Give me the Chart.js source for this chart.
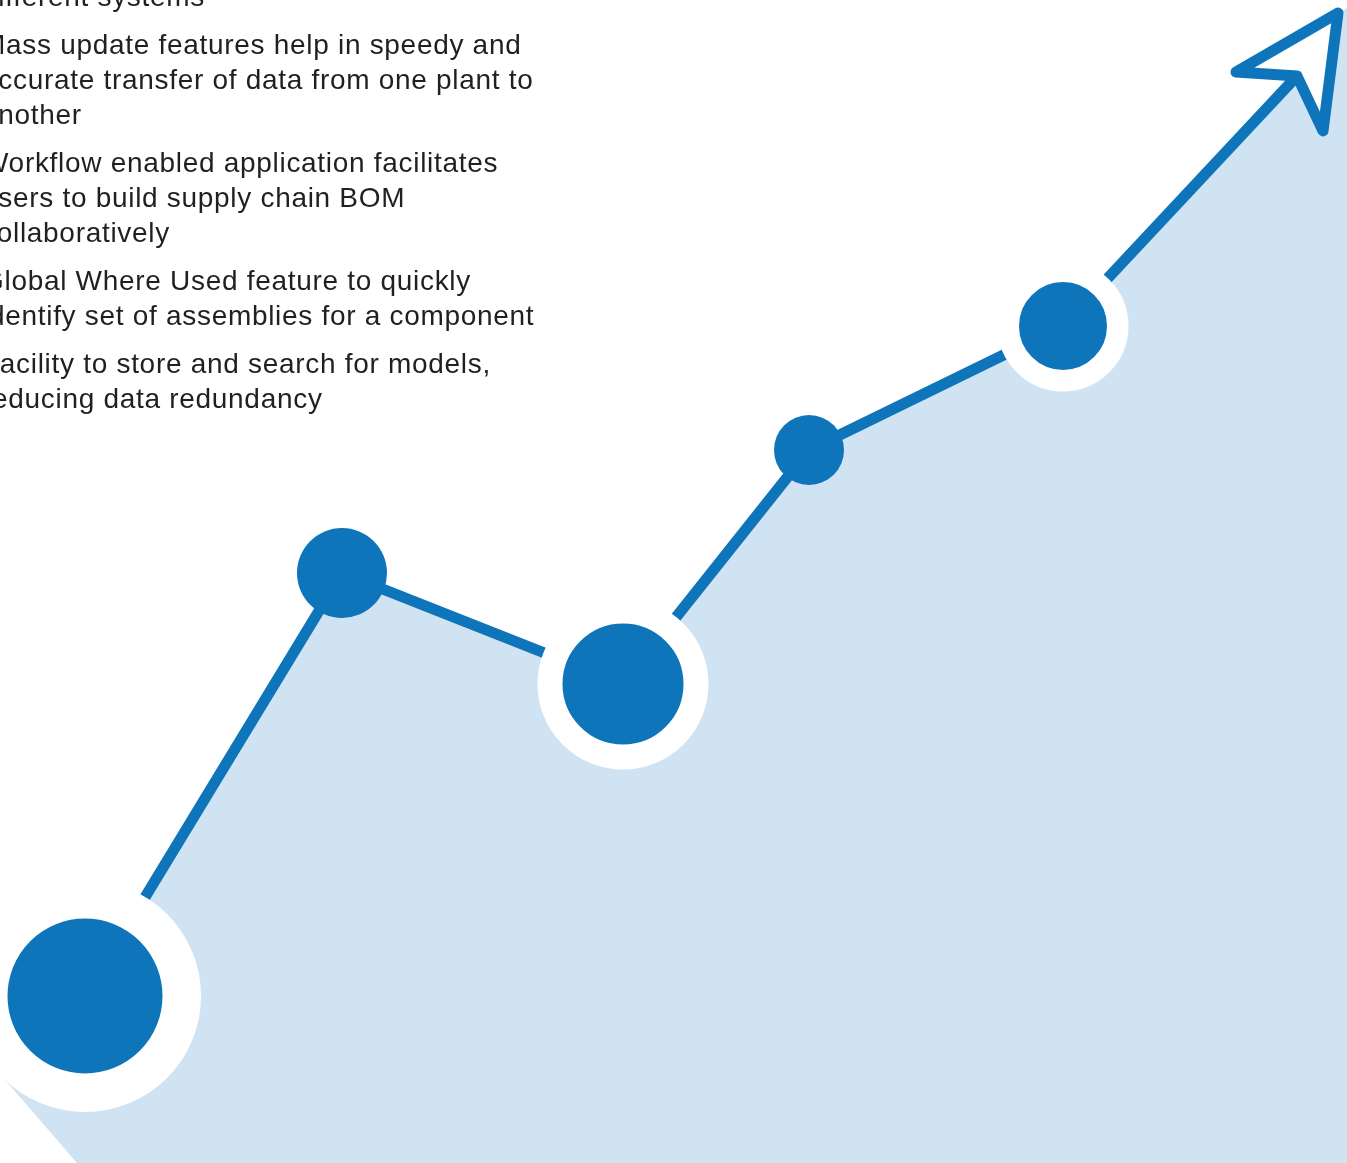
<!DOCTYPE html>
<html lang="en">
<head>
  <meta charset="UTF-8">
  <title>Supply Chain BOM growth</title>
  <style>
    body {
      margin: 0;
      padding: 0;
      background: #fff;
      overflow: hidden;
    }
    #wrap {
      position: absolute;
      left: 0;
      top: 0;
      width: 1347px;
      height: 1163px;
    }
    .notes {
      position: absolute;
      left: -18px;
      top: -21px;
      margin: 0;
      padding: 0;
      list-style: none;
      font-family: 'Liberation Sans', Arial, sans-serif;
      font-size: 28px;
      letter-spacing: 0.7px;
      line-height: 35px;
      color: #231f20;
      white-space: nowrap;
    }
    .notes li {
      margin-bottom: 13px;
    }
  </style>
</head>
<body>

  <div id="wrap">
    <canvas id="growth"></canvas>
    <ul class="notes">
      <li>different systems</li>
      <li>Mass update features help in speedy and<br>accurate transfer of data from one plant to<br>another</li>
      <li>Workflow enabled application facilitates<br>users to build supply chain BOM<br>collaboratively</li>
      <li>Global Where Used feature to quickly<br>identify set of assemblies for a component</li>
      <li>Facility to store and search for models,<br>reducing data redundancy</li>
    </ul>
  </div>

  <script src="https://cdn.jsdelivr.net/npm/chart.js"></script>
  <script>
    // milestones along the growth line (x = step position, y = level)
    const stepX  = [85, 342, 623, 809, 1063, 1297];
    const stepY  = [167, 590, 479, 713, 837, 1087];

    // arrow head outline, starting and ending at the notch
    const arrowX = [1297, 1236, 1338, 1323, 1297];
    const arrowY = [1087, 1091, 1150, 1032, 1087];

    // shaded area under the line (runs out past the arrow to the right edge)
    const areaX  = [0, 85, 342, 623, 809, 1063, 1297, 1323, 1338, 1347];
    const areaY  = [163, 167, 590, 479, 713, 837, 1087, 1032, 1150, 1155];

    // clipped bottom-left corner of the shaded area
    const cornerX = [0, 77];
    const cornerY = [89, 0];

    const BLUE  = '#0f75bb';
    const LIGHT = '#d0e3f2';

    const pts = (xs, ys) => xs.map((x, i) => ({ x, y: ys[i] }));

    new Chart(document.getElementById('growth'), {
      type: 'line',
      data: {
        datasets: [
          {
            label: 'arrow',
            data: pts(arrowX, arrowY),
            borderColor: BLUE,
            borderWidth: 11,
            borderJoinStyle: 'round',
            borderCapStyle: 'round',
            pointRadius: 0,
            fill: false,
            order: 0
          },
          {
            label: 'growth',
            data: pts(stepX, stepY),
            borderColor: BLUE,
            borderWidth: 11,
            borderCapStyle: 'butt',
            pointBackgroundColor: BLUE,
            pointBorderColor: '#fff',
            pointRadius: [96.75, 45, 73, 35, 54.75, 0],
            pointBorderWidth: [38.5, 0, 25, 0, 21.5, 0],
            fill: false,
            order: 1
          },
          {
            label: 'corner',
            data: pts(cornerX, cornerY),
            borderColor: 'transparent',
            borderWidth: 0,
            backgroundColor: '#fff',
            pointRadius: 0,
            fill: 'start',
            order: 2
          },
          {
            label: 'area',
            data: pts(areaX, areaY),
            borderColor: 'transparent',
            borderWidth: 0,
            backgroundColor: LIGHT,
            pointRadius: 0,
            fill: 'start',
            order: 3
          }
        ]
      },
      options: {
        responsive: true,
        maintainAspectRatio: false,
        animation: false,
        events: [],
        layout: { padding: 0, autoPadding: false },
        plugins: {
          legend: { display: false },
          tooltip: { enabled: false }
        },
        scales: {
          x: { type: 'linear', min: 0, max: 1347, display: false },
          y: { type: 'linear', min: 0, max: 1163, display: false }
        }
      }
    });
  </script>

</body>
</html>
